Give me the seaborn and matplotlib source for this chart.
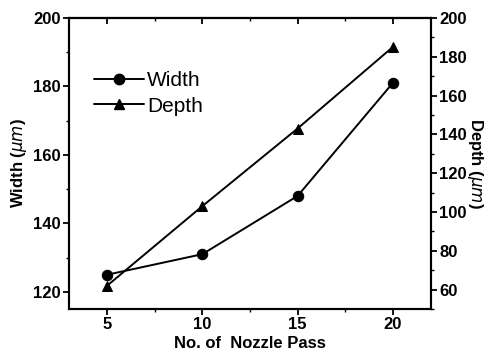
import matplotlib
matplotlib.use("Agg")
import matplotlib.pyplot as plt
import seaborn as sns
import pandas as pd
from matplotlib.ticker import MultipleLocator
from matplotlib.lines import Line2D

sns.set_theme(style="ticks")
plt.rcParams['font.family'] = ['Liberation Sans', 'DejaVu Sans']
plt.rcParams['text.color'] = 'black'
plt.rcParams['axes.labelcolor'] = 'black'
plt.rcParams['xtick.color'] = 'black'
plt.rcParams['ytick.color'] = 'black'

passes = [5, 10, 15, 20]
width_um = [125, 131, 148, 181]
depth_um = [62, 103, 143, 185]

df = pd.DataFrame({"passes": passes, "width": width_um, "depth": depth_um})

fig = plt.figure(figsize=(4.97, 3.58), dpi=100)
ax = fig.add_axes([0.139, 0.137, 0.728, 0.813])
ax2 = ax.twinx()

ms = 7.5
lw = 1.4
sns.lineplot(data=df, x="passes", y="width", ax=ax, color="black", marker="o",
             markersize=ms, linewidth=lw, markeredgecolor="black")
sns.lineplot(data=df, x="passes", y="depth", ax=ax2, color="black", marker="^",
             markersize=ms, linewidth=lw, markeredgecolor="black")

ax.set_xlim(3, 22)
ax.set_ylim(115, 200)
ax2.set_ylim(50, 200)
ax.set_xticks(passes)
ax.xaxis.set_minor_locator(MultipleLocator(2.5))
ax.set_yticks([120, 140, 160, 180, 200])
ax.yaxis.set_minor_locator(MultipleLocator(10))
ax2.set_yticks([60, 80, 100, 120, 140, 160, 180, 200])
ax2.yaxis.set_minor_locator(MultipleLocator(10))

fs = 12
ax.set_xlabel("No. of  Nozzle Pass", fontsize=fs, fontweight="bold", labelpad=3)
ax.set_ylabel("Width ($\\mu m$)", fontsize=fs, fontweight="bold", labelpad=3)
ax2.set_ylabel("Depth ($\\mu m$)", fontsize=fs, fontweight="bold", rotation=270, labelpad=13)

for a in (ax, ax2):
    for s in a.spines.values():
        s.set_linewidth(1.5)
        s.set_color("black")
    a.tick_params(which="major", length=4, width=1.3, labelsize=fs, colors="black", pad=2)
    a.tick_params(which="minor", length=2, width=1.0)
    for lab in a.get_xticklabels() + a.get_yticklabels():
        lab.set_fontweight("bold")

ax.tick_params(axis="x", which="both", direction="out", top=False)
ax.tick_params(axis="y", which="both", direction="out")
ax2.tick_params(axis="y", which="both", direction="out")

top = ax.secondary_xaxis("top")
top.set_xticks(passes)
top.xaxis.set_minor_locator(MultipleLocator(2.5))
top.tick_params(which="major", direction="in", length=4, width=1.3, labeltop=False)
top.tick_params(which="minor", direction="in", length=2, width=1.0)
top.spines["top"].set_linewidth(1.5)

handles = [Line2D([], [], color="black", marker="o", markersize=ms, linewidth=lw),
           Line2D([], [], color="black", marker="^", markersize=ms, linewidth=lw)]
leg = ax.legend(handles, ["Width", "Depth"], loc="upper left",
                bbox_to_anchor=(0.045, 0.845), frameon=False, handlelength=2.4,
                fontsize=15, handletextpad=0.15, labelspacing=0.3,
                borderaxespad=0.0)
for t in leg.get_texts():
    t.set_color("black")

fig.savefig("out.png", dpi=100)
